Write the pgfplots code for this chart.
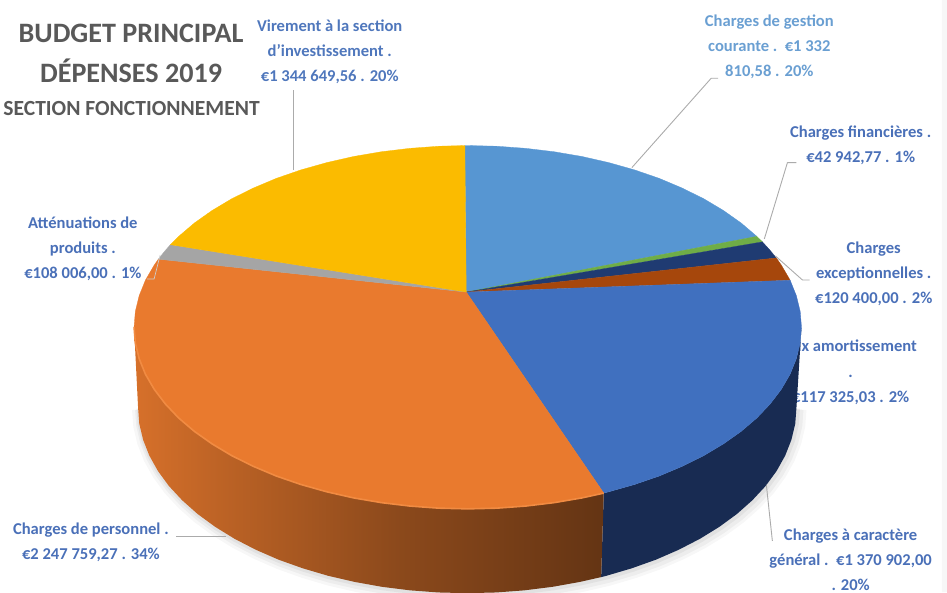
\documentclass[border=0pt]{standalone}
\usepackage{pgfplots}
\usepackage{pgfplotstable}
\usepackage{fontspec}
\setmainfont{Carlito}
\pgfplotsset{compat=1.18}

\definecolor{cgestion}{HTML}{5796D2}
\definecolor{cfin}{HTML}{6FAD47}
\definecolor{cnavy}{HTML}{1F3B72}
\definecolor{cbrown}{HTML}{A6470C}
\definecolor{cmain}{HTML}{4070BF}
\definecolor{corange}{HTML}{E97A2E}
\definecolor{cgray}{HTML}{A5A5A5}
\definecolor{cyellow}{HTML}{FBBB00}
\definecolor{wallnavy}{HTML}{182B52}
\definecolor{rim}{HTML}{F18B42}
\definecolor{leader}{HTML}{ABABAB}
\definecolor{lab}{HTML}{4A70B8}
\definecolor{lablight}{HTML}{6A9FD2}
\definecolor{title}{HTML}{595959}

\pgfdeclarehorizontalshading{orangewall}{100bp}{
  color(0bp)=(corange!92!black);
  color(25bp)=(corange!92!black);
  color(35bp)=(corange!80!black);
  color(53bp)=(corange!60!black);
  color(75bp)=(corange!43!black);
  color(100bp)=(corange!43!black)}

% outer edge of the pie foot, image pixels
\pgfplotstableread{
x y
797 406
795.8 422.1
792 438.1
785.8 453.9
777.2 469.3
766.3 484.2
753 498.5
737.7 512.1
720.2 524.9
700.9 536.8
679.8 547.7
657.1 557.6
633 566.2
607.6 573.7
581.2 579.8
553.9 584.7
525.9 588.2
497.6 590.3
469 591
440.4 590.3
412.1 588.2
384.1 584.7
356.8 579.8
330.4 573.7
305 566.2
280.9 557.6
258.2 547.7
237.1 536.8
217.8 524.9
200.3 512.1
185 498.5
171.7 484.2
160.8 469.3
152.2 453.9
146 438.1
142.2 422.1
141 406
}\footarc

% front edge of the orange slice
\pgfplotstableread{
x y
605 491.3
583.2 496.1
555.6 500.8
527.2 504.2
498.5 506.3
469.5 507
440.5 506.3
411.8 504.2
383.4 500.8
355.8 496.1
329.0 490.0
303.2 482.7
278.8 474.3
255.8 464.6
234.4 454.0
214.8 442.3
197.1 429.8
181.5 416.5
168.2 402.5
157.1 387.9
148.3 372.8
142.1 357.4
138.3 341.8
137 326
}\orangearc

\newcommand{\lbl}{\fontsize{16.5}{25}\selectfont\bfseries}

\begin{document}
\begin{tikzpicture}
\begin{axis}[
    scale only axis,
    width=947pt, height=590pt,
    xmin=0, xmax=947,
    ymin=0, ymax=590,
    y dir=reverse,
    hide axis,
    axis on top=false,
    every axis plot/.append style={line join=round}
    ]

    % faint strip at the right edge
    \addplot[fill=black!3, draw=none] coordinates {(942,0) (947,0) (947,590) (942,590) (942,0)};

    % labels, behind the pie
    \node[text=title, align=center, font=\fontsize{28}{40}\selectfont\bfseries] at (axis cs:134,53) {BUDGET PRINCIPAL\\DÉPENSES 2019};
    \node[text=title, font=\fontsize{21.5}{26}\selectfont\bfseries] at (axis cs:134.5,108) {SECTION FONCTIONNEMENT};
    \node[text=lab!85!lablight, align=center, font=\lbl] at (axis cs:332,52) {Virement à la section\\d'investissement .\\€1 344 649,56 . 20\%};
    \node[text=lablight, align=center, font=\lbl] at (axis cs:770,47) {Charges de gestion\\courante .\ \ €1 332\\810,58 . 20\%};
    \node[text=lab, align=center, font=\lbl] at (axis cs:861,145) {Charges financières .\\€42 942,77 . 1\%};
    \node[text=lab, align=center, font=\lbl] at (axis cs:874,273) {Charges\\exceptionnelles .\\€120 400,00 . 2\%};
    \node[text=lab, align=center, font=\lbl] at (axis cs:851,371) {aux amortissement\\.\\€117 325,03 . 2\%};
    \node[text=lab, align=center, font=\lbl] at (axis cs:851,558) {Charges à caractère\\général .\ \ €1 370 902,00\\. 20\%};
    \node[text=lab, align=center, font=\lbl] at (axis cs:94,540) {Charges de personnel .\\€2 247 759,27 . 34\%};
    \node[text=lab, align=center, font=\lbl] at (axis cs:86,248) {Atténuations de\\produits .\\€108 006,00 . 1\%};

    % soft shadow under the foot
    \addplot[draw=black, opacity=0.03, line width=16pt, xshift=2pt, yshift=-2pt] table {\footarc};
    \addplot[draw=black, opacity=0.04, line width=10pt, xshift=2pt, yshift=-2pt] table {\footarc};
    \addplot[draw=black, opacity=0.05, line width=5pt, xshift=1pt, yshift=-1pt] table {\footarc};

    % side walls
    \addplot[fill=wallnavy, draw=none] coordinates {
        (802,326) (800.7,341.8) (796.9,357.4) (790.7,372.8) (781.9,387.9)
        (770.8,402.5) (757.5,416.5) (741.9,429.8) (724.2,442.3) (704.6,454.0)
        (683.2,464.6) (660.2,474.3) (635.8,482.7) (610.0,490.0) (605,491.3)
        (602.4,575) (607.6,573.7) (633,566.2) (657.1,557.6) (679.8,547.7)
        (700.9,536.8) (720.2,524.9) (737.7,512.1) (753,498.5) (766.3,484.2)
        (777.2,469.3) (785.8,453.9) (792,438.1) (795.8,422.1) (797,406) (802,326)};
    \addplot[shade, shading=orangewall, draw=none] coordinates {
        (605,491.3) (583.2,496.1) (555.6,500.8) (527.2,504.2) (498.5,506.3)
        (469.5,507) (440.5,506.3) (411.8,504.2) (383.4,500.8) (355.8,496.1)
        (329.0,490.0) (303.2,482.7) (278.8,474.3) (255.8,464.6) (234.4,454.0)
        (214.8,442.3) (197.1,429.8) (181.5,416.5) (168.2,402.5) (157.1,387.9)
        (148.3,372.8) (142.1,357.4) (138.3,341.8) (137,326)
        (141,406) (142.2,422.1) (146,438.1) (152.2,453.9) (160.8,469.3)
        (171.7,484.2) (185,498.5) (200.3,512.1) (217.8,524.9) (237.1,536.8)
        (258.2,547.7) (280.9,557.6) (305,566.2) (330.4,573.7) (356.8,579.8)
        (384.1,584.7) (412.1,588.2) (440.4,590.3) (469,591) (497.6,590.3)
        (525.9,588.2) (553.9,584.7) (581.2,579.8) (602.4,575) (605,491.3)};

    % top face, one polygon for each slice
    \addplot[fill=cgestion, draw=cgestion, line width=0.3pt] coordinates {
        (468,291) (466.6,145) (469.5,145) (498.5,145.7) (527.2,147.8) (555.6,151.2)
        (583.2,155.9) (610.0,162.0) (635.8,169.3) (660.2,177.7) (683.2,187.4)
        (704.6,198.0) (724.2,209.7) (741.9,222.2) (757.5,235.5) (468,291)};
    \addplot[fill=cfin, draw=cfin, line width=0.3pt] coordinates {
        (468,291) (757.5,235.5) (763.1,241.0) (468,291)};
    \addplot[fill=cnavy, draw=cnavy, line width=0.3pt] coordinates {
        (468,291) (763.1,241.0) (770.8,249.5) (776.9,257.0) (468,291)};
    \addplot[fill=cbrown, draw=cbrown, line width=0.3pt] coordinates {
        (468,291) (776.9,257.0) (781.9,264.1) (790.7,279.2) (468,291)};
    \addplot[fill=cmain, draw=cmain, line width=0.3pt] coordinates {
        (468,291) (790.7,279.2) (796.9,294.6) (800.7,310.2) (802,326) (800.7,341.8)
        (796.9,357.4) (790.7,372.8) (781.9,387.9) (770.8,402.5) (757.5,416.5)
        (741.9,429.8) (724.2,442.3) (704.6,454.0) (683.2,464.6) (660.2,474.3)
        (635.8,482.7) (610.0,490.0) (605,491.3) (468,291)};
    \addplot[fill=corange, draw=corange, line width=0.3pt] coordinates {
        (468,291) (605,491.3) (583.2,496.1) (555.6,500.8) (527.2,504.2) (498.5,506.3)
        (469.5,507) (440.5,506.3) (411.8,504.2) (383.4,500.8) (355.8,496.1)
        (329.0,490.0) (303.2,482.7) (278.8,474.3) (255.8,464.6) (234.4,454.0)
        (214.8,442.3) (197.1,429.8) (181.5,416.5) (168.2,402.5) (157.1,387.9)
        (148.3,372.8) (142.1,357.4) (138.3,341.8) (137,326) (138.3,310.2)
        (142.1,294.6) (148.3,279.2) (157.1,264.1) (161.2,258.2) (468,291)};
    \addplot[fill=cgray, draw=cgray, line width=0.3pt] coordinates {
        (468,291) (161.2,258.2) (168.2,249.5) (173.2,243.8) (468,291)};
    \addplot[fill=cyellow, draw=cyellow, line width=0.3pt] coordinates {
        (468,291) (173.2,243.8) (181.5,235.5) (197.1,222.2) (214.8,209.7) (234.4,198.0)
        (255.8,187.4) (278.8,177.7) (303.2,169.3) (329.0,162.0) (355.8,155.9)
        (383.4,151.2) (411.8,147.8) (440.5,145.7) (466.6,145) (468,291)};

    % light rim between the orange face and its wall
    \addplot[draw=rim, line width=1.6pt] table {\orangearc};

    % leader lines
    \addplot[draw=leader, line width=0.9pt] coordinates {(296,90) (296,169)};
    \addplot[draw=leader, line width=0.9pt] coordinates {(633,167) (712,78) (719,78)};
    \addplot[draw=leader, line width=0.9pt] coordinates {(765,238) (788,162) (797,162)};
    \addplot[draw=leader, line width=0.9pt] coordinates {(776,255) (803,279) (810,279)};
    \addplot[draw=leader, line width=0.9pt] coordinates {(767,483) (773,539)};
    \addplot[draw=leader, line width=0.9pt] coordinates {(179,534) (229,534)};
    \addplot[draw=leader!60, line width=0.7pt] coordinates {(163,254) (157,278) (150,278)};
\end{axis}
\end{tikzpicture}
\end{document}
